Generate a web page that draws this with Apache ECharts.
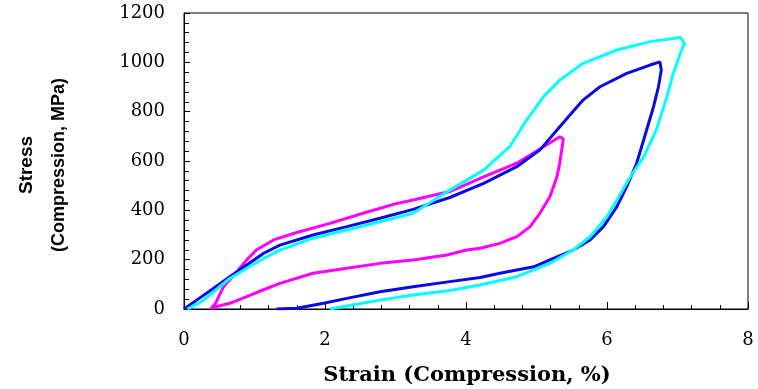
<!DOCTYPE html>
<html>
<head>
<meta charset="utf-8">
<script src="https://cdn.jsdelivr.net/npm/echarts@6/dist/echarts.min.js"></script>
<style>html,body{margin:0;padding:0;background:#fff}#c{width:758px;height:389px}</style>
</head>
<body>
<div id="c"></div>
<script>
// [strain %, stress MPa] pairs, loading then unloading
var magentaLoop = [
  [0.38,0],[0.45,25],[0.56,90],[0.75,151],[0.89,199],[1.03,240],[1.27,280],[1.6,310],
  [2.07,347],[2.54,388],[3.02,428],[3.25,442],[3.77,476],[4.25,536],[4.72,591],[5.1,658],[5.33,698],
  [5.38,690],[5.36,650],[5.33,592],[5.29,536],[5.19,455],[5.05,389],[4.91,334],[4.72,293],
  [4.48,266],[4.2,246],[4.01,239],[3.73,219],[3.25,199],[2.78,185],[2.31,165],[1.83,145],
  [1.36,104],[1.12,77],[0.89,50],[0.65,23],[0.42,7],[0.38,0]
];
var blueLoop = [
  [0,0],[0.18,36],[0.42,84],[0.65,131],[0.89,178],[1.13,226],[1.36,259],[1.83,300],[2.31,334],
  [2.78,368],[3.25,404],[3.77,452],[4.25,509],[4.72,577],[5.05,645],[5.33,739],[5.66,847],[5.9,901],
  [6.28,955],[6.61,989],[6.75,1002],
  [6.77,969],[6.73,901],[6.66,820],[6.59,753],[6.52,685],[6.42,591],[6.28,496],[6.14,415],
  [5.95,334],[5.76,280],[5.52,239],[5.19,199],[4.96,171],[4.48,145],[4.2,128],[3.77,111],
  [3.25,90],[2.78,70],[2.31,43],[1.98,23],[1.6,3],[1.31,0]
];
var cyanLoop = [
  [0.05,0],[0.25,30],[0.42,70],[0.65,124],[0.89,165],[1.13,205],[1.36,239],[1.83,287],[2.31,320],
  [2.78,354],[3.25,388],[3.77,482],[4.25,563],[4.62,658],[4.86,766],[5.1,861],[5.33,928],[5.66,996],
  [6.14,1050],[6.61,1084],[7.04,1101],[7.1,1077],
  [7.04,1036],[6.94,955],[6.85,861],[6.7,726],[6.52,617],[6.33,536],[6.14,442],[6.0,374],
  [5.76,293],[5.52,239],[5.19,185],[4.72,131],[4.2,97],[3.75,74],[3.25,57],[2.78,36],[2.31,12],[2.07,0]
];
var xTitle = 'Strain (Compression, %)';
var yTitle1 = 'Stress';
var yTitle2 = '(Compression, MPa)';

var chart = echarts.init(document.getElementById('c'), null, {renderer:'canvas'});
var serif = 'DejaVu Serif';
function mk(data, color){
  return {type:'line', data:data, showSymbol:false, symbol:'none', smooth:false,
    lineStyle:{color:color, width:3}, itemStyle:{color:color}, animation:false, z:2};
}
chart.setOption({
  animation:false,
  grid:{left:184, right:10, top:13, bottom:80, show:true, borderColor:'#000', borderWidth:1, backgroundColor:'transparent'},
  xAxis:{type:'value', min:0, max:8, interval:2,
    axisLine:{show:true, lineStyle:{color:'#000', width:1}},
    axisTick:{show:true, inside:true, length:7, lineStyle:{color:'#000'}},
    minorTick:{show:true, splitNumber:5, length:4, lineStyle:{color:'#000'}},
    splitLine:{show:false}, minorSplitLine:{show:false},
    axisLabel:{color:'#000', fontFamily:serif, fontSize:18, margin:22, formatter:function(v){return String(v);}}
  },
  yAxis:{type:'value', min:0, max:1200, interval:200,
    axisLine:{show:true, lineStyle:{color:'#000', width:1}},
    axisTick:{show:true, inside:true, length:6, lineStyle:{color:'#000'}},
    minorTick:{show:true, splitNumber:5, length:5, lineStyle:{color:'#000'}},
    splitLine:{show:false}, minorSplitLine:{show:false},
    axisLabel:{color:'#000', fontFamily:serif, fontSize:18, margin:19, formatter:function(v){return String(v);}}
  },
  graphic:[
    {type:'text', x:467, y:376, style:{text:xTitle, align:'center', verticalAlign:'middle',
      font:'bold 21px "DejaVu Serif"', fill:'#000'}},
    {type:'text', rotation:Math.PI/2, x:27, y:165, style:{text:yTitle1, align:'center', verticalAlign:'middle',
      font:'bold 19px "Liberation Sans"', fill:'#000'}},
    {type:'text', rotation:Math.PI/2, x:59, y:165, style:{text:yTitle2, align:'center', verticalAlign:'middle',
      font:'bold 18px "Liberation Sans"', fill:'#000'}}
  ],
  series:[mk(magentaLoop,'#FF00FF'), mk(blueLoop,'#0A0AE6'), mk(cyanLoop,'#00FFFF')]
});
</script>
</body>
</html>
